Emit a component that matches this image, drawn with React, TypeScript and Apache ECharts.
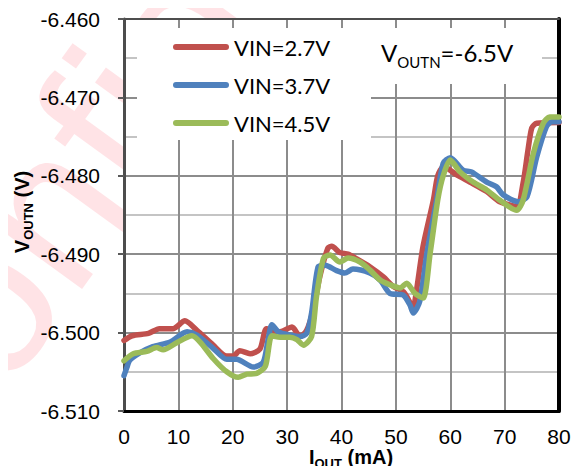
import React, { useEffect, useRef } from "react";
import * as echarts from "echarts";

const seriesNames = ["VIN=2.7V", "VIN=3.7V", "VIN=4.5V"];
const seriesColors = ["#C0504D", "#4F81BD", "#9BBB59"];

const vin27: [number, number][] = [
  [0, -6.501], [1.5, -6.5004], [4.5, -6.5001], [6.5, -6.4995], [9, -6.4995], [11.2, -6.4985],
  [13.4, -6.4997], [16.4, -6.5016], [18.9, -6.503], [20.1, -6.503], [21.3, -6.5023], [23.2, -6.5027],
  [25, -6.5021], [26.2, -6.4995], [27.5, -6.4997], [28.7, -6.4999], [30.9, -6.4993], [32.4, -6.5005],
  [33.6, -6.4997], [34.8, -6.4971], [36, -6.4929], [37.5, -6.4892], [38.2, -6.489], [39.7, -6.4898],
  [41.2, -6.49], [42.8, -6.4906], [45.2, -6.4916], [47.7, -6.4929], [49.5, -6.4941], [51.4, -6.4948],
  [52.6, -6.4962], [53.1, -6.4972], [53.8, -6.4946], [55, -6.489], [56.9, -6.4831], [57.7, -6.48],
  [58.8, -6.4788], [61.2, -6.4799], [63.6, -6.4808], [66.7, -6.482], [69.1, -6.4833], [72.2, -6.4839],
  [73.4, -6.4809], [74.3, -6.4767], [75, -6.4739], [75.9, -6.4733], [80, -6.4732],
];

const vin37: [number, number][] = [
  [0, -6.5055], [0.5, -6.5045], [1.1, -6.5035], [2.9, -6.5026], [5.3, -6.5018], [8.5, -6.5012],
  [11.6, -6.4999], [13.4, -6.5003], [16.4, -6.502], [18.9, -6.5034], [20.7, -6.5034], [23.8, -6.5044],
  [25.6, -6.5038], [26.5, -6.5009], [27.2, -6.499], [28.4, -6.4999], [30.5, -6.5003], [32.4, -6.5005],
  [33.6, -6.5001], [34.5, -6.4975], [35.7, -6.4916], [37, -6.4914], [39.1, -6.4921], [40.6, -6.4924],
  [42.1, -6.4919], [45.2, -6.4924], [47.1, -6.4933], [48.9, -6.495], [51.3, -6.4952], [52.6, -6.4965],
  [53.2, -6.4975], [54.4, -6.496], [55.7, -6.4899], [57.5, -6.4831], [58.7, -6.4784], [60, -6.4777],
  [62.4, -6.4793], [63.9, -6.4795], [66.7, -6.4808], [68.5, -6.4814], [69.7, -6.4824], [72.5, -6.4833],
  [74.1, -6.4827], [75.9, -6.4776], [77.7, -6.4737], [78.7, -6.4731], [80, -6.4731],
];

const vin45: [number, number][] = [
  [0, -6.5036], [1.7, -6.5027], [4.2, -6.5024], [6, -6.5019], [7.2, -6.5022], [9.7, -6.5013],
  [12.5, -6.5004], [14, -6.5012], [16.4, -6.5033], [18.9, -6.505], [21, -6.5057], [22.6, -6.5053],
  [24.4, -6.5052], [26, -6.5043], [27.2, -6.5004], [28.7, -6.5006], [30.5, -6.5006], [31.8, -6.5009],
  [33, -6.5016], [34.5, -6.5005], [35.4, -6.4954], [36.7, -6.4905], [37.9, -6.4901], [39.7, -6.491],
  [41.2, -6.4905], [43.4, -6.491], [45.2, -6.492], [47.1, -6.4933], [48.9, -6.4939], [50.8, -6.4943],
  [52, -6.4937], [53.5, -6.495], [55, -6.4956], [56.3, -6.4899], [57.7, -6.4831], [58.7, -6.48],
  [60, -6.478], [61.8, -6.4795], [64.2, -6.4808], [66.7, -6.4818], [69.1, -6.4831], [72.2, -6.4844],
  [73.4, -6.4831], [75.3, -6.4771], [77.1, -6.4733], [78.3, -6.4725], [80, -6.4725],
];

const xTicks = { min: 0, max: 80, interval: 10 };
const yTicks = { min: -6.51, max: -6.46, interval: 0.01 };

const ARIAL = '"Liberation Sans", Arial, sans-serif';
const CAL = 'Lato, "Noto Sans", sans-serif';

export default function App() {
  const ref = useRef<HTMLDivElement>(null);
  useEffect(() => {
    if (!ref.current) return;
    const chart = echarts.init(ref.current, undefined, { renderer: "svg" });
    const data = [vin27, vin37, vin45];
    chart.setOption({
      animation: false,
      backgroundColor: "#fff",
      grid: { left: 124, top: 19, right: 23, bottom: 63, show: true, backgroundColor: "#fff", borderWidth: 0 },
      xAxis: [
        {
          type: "value",
          min: xTicks.min,
          max: xTicks.max,
          interval: xTicks.interval,
          axisLine: { show: true, onZero: false, lineStyle: { color: "#000", width: 3 } },
          axisTick: { show: false },
          axisLabel: { color: "#000", fontSize: 21, fontFamily: ARIAL, margin: 15 },
          splitLine: { show: true, lineStyle: { color: "#8C8C8C", width: 2 } },
        },
        {
          type: "value",
          position: "top",
          min: xTicks.min,
          max: xTicks.max,
          interval: xTicks.interval,
          axisLine: { show: true, onZero: false, lineStyle: { color: "#4D4D4D", width: 2 } },
          axisTick: { show: false },
          axisLabel: { show: false },
          splitLine: { show: false },
        },
      ],
      yAxis: [
        {
          type: "value",
          min: yTicks.min,
          max: yTicks.max,
          interval: yTicks.interval,
          axisLine: { show: true, onZero: false, lineStyle: { color: "#4D4D4D", width: 3 } },
          axisTick: { show: true, length: 6, lineStyle: { color: "#595959", width: 2 } },
          axisLabel: {
            color: "#000",
            fontSize: 21,
            fontFamily: ARIAL,
            margin: 24,
            formatter: (v: number) => v.toFixed(3),
          },
          splitLine: { show: true, lineStyle: { color: "#8C8C8C", width: 2 } },
          minorTick: { show: false, splitNumber: 2 },
          minorSplitLine: { show: true, lineStyle: { color: "#C4C4C4", width: 2 } },
        },
        {
          type: "value",
          position: "right",
          min: yTicks.min,
          max: yTicks.max,
          interval: yTicks.interval,
          axisLine: { show: true, onZero: false, lineStyle: { color: "#000", width: 4 } },
          axisTick: { show: false },
          axisLabel: { show: false },
          splitLine: { show: false },
        },
      ],
      legend: {
        data: seriesNames,
        orient: "vertical",
        left: 173,
        top: 35,
        padding: 0,
        itemWidth: 56,
        itemHeight: 6,
        itemGap: 14,
        icon: "path://M3,0 H53 A3,3 0 0 1 53,6 H3 A3,3 0 0 1 3,0 Z",
        textStyle: { fontSize: 22, fontFamily: CAL, color: "#000", lineHeight: 24 },
        z: 6,
      },
      graphic: [
        {
          type: "text",
          x: -58,
          y: 537,
          rotation: (54 * Math.PI) / 180,
          z: -10,
          silent: true,
          style: {
            text: "Confidential",
            fontSize: 210,
            fontFamily: ARIAL,
            fill: "rgba(255, 90, 105, 0.17)",
            align: "left",
            verticalAlign: "bottom",
          },
        },
        { type: "rect", z: 1, shape: { x: 137, y: 28, width: 234, height: 112 }, style: { fill: "#fff" } },
        { type: "rect", z: 1, shape: { x: 371, y: 28, width: 171, height: 56 }, style: { fill: "#fff" } },
        {
          type: "text",
          z: 7,
          x: 381,
          y: 70,
          style: {
            text: "{b|V}{s|OUTN}{b|=-6.5V}",
            align: "left",
            verticalAlign: "bottom",
            rich: {
              b: { fontSize: 24, fontFamily: CAL, fill: "#000", lineHeight: 30, verticalAlign: "top" },
              s: { fontSize: 15, fontFamily: CAL, fill: "#000", lineHeight: 15, padding: [14, 0, 0, 0], verticalAlign: "top" },
            },
          },
        },
        {
          type: "text",
          z: 7,
          x: 351,
          y: 459,
          style: {
            text: "{b|I}{s|OUT}{b| (mA)}",
            align: "center",
            verticalAlign: "middle",
            rich: {
              b: { fontSize: 20, fontWeight: "bold", fontFamily: ARIAL, fill: "#000", lineHeight: 24, verticalAlign: "top" },
              s: { fontSize: 13, fontWeight: "bold", fontFamily: ARIAL, fill: "#000", lineHeight: 13, padding: [10, 0, 0, 0], verticalAlign: "top" },
            },
          },
        },
        {
          type: "text",
          z: 7,
          x: 24,
          y: 212,
          rotation: Math.PI / 2,
          style: {
            text: "{b|V}{s|OUTN}{b| (V)}",
            align: "center",
            verticalAlign: "middle",
            rich: {
              b: { fontSize: 20, fontWeight: "bold", fontFamily: ARIAL, fill: "#000", lineHeight: 24, verticalAlign: "top" },
              s: { fontSize: 13, fontWeight: "bold", fontFamily: ARIAL, fill: "#000", lineHeight: 13, padding: [10, 0, 0, 0], verticalAlign: "top" },
            },
          },
        },
      ],
      series: seriesNames.map((name, i) => ({
        name,
        type: "line",
        data: data[i],
        smooth: 0.25,
        showSymbol: false,
        symbol: "none",
        color: seriesColors[i],
        lineStyle: { color: seriesColors[i], width: 5.5, cap: "round", join: "round" },
        itemStyle: { color: seriesColors[i] },
        z: 2 + i,
      })),
    });
    return () => chart.dispose();
  }, []);
  return <div ref={ref} style={{ width: 582, height: 474, margin: -8 }} />;
}
